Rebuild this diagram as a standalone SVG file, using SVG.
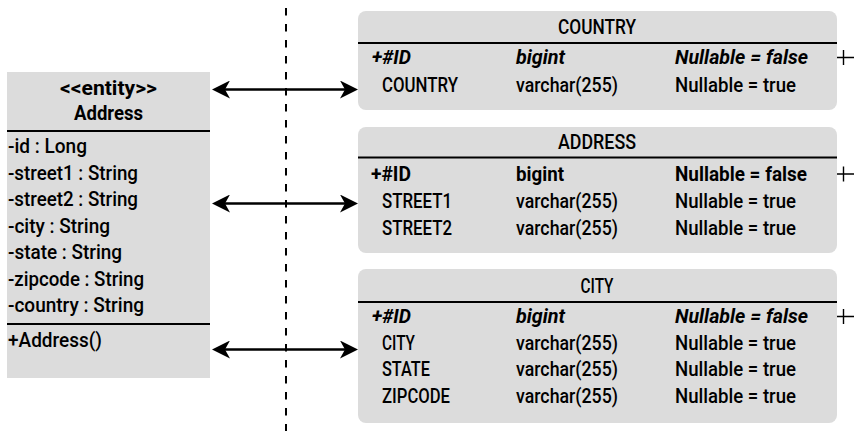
<svg xmlns="http://www.w3.org/2000/svg" width="854" height="431" viewBox="0 0 854 431">
  <defs>
    <style>
      .box { fill: #dcdcdc; }
      .rule { stroke: #000; stroke-width: 2; }
      .t { font-family: Roboto, "Liberation Sans", sans-serif; font-size: 20px; font-weight: 500; fill: #000; }
      .b { font-weight: 700; }
      .i { font-style: italic; }
      .mid { text-anchor: middle; }
      .link { stroke: #000; stroke-width: 2.5; fill: none; }
      .stub { stroke: #000; stroke-width: 1.4; fill: none; }
      .sep { stroke: #000; stroke-width: 2; stroke-dasharray: 7.5 8.5; }
    </style>
    <marker id="head" viewBox="0 0 18 18" refX="15" refY="9" markerWidth="18" markerHeight="18" markerUnits="userSpaceOnUse" orient="auto-start-reverse">
      <path d="M0,0 L18,9 L0,18 L5,9 Z" fill="#000"/>
    </marker>
  </defs>

  <!-- dashed boundary between object and relational sides -->
  <line class="sep" x1="286" y1="8" x2="286" y2="431"/>

  <!-- UML class -->
  <g id="entity-address">
    <rect class="box" x="7" y="72" width="203" height="306"/>
    <line class="rule" x1="7" y1="131" x2="210" y2="131"/>
    <line class="rule" x1="7" y1="324" x2="210" y2="324"/>
    <text class="t b mid" x="108.5" y="95" textLength="97" lengthAdjust="spacingAndGlyphs">&lt;&lt;entity&gt;&gt;</text>
    <text class="t b mid" x="108.5" y="120" textLength="69" lengthAdjust="spacingAndGlyphs">Address</text>
    <text class="t" x="8" y="153" textLength="79" lengthAdjust="spacingAndGlyphs">-id : Long</text>
    <text class="t" x="8" y="180" textLength="130" lengthAdjust="spacingAndGlyphs">-street1 : String</text>
    <text class="t" x="8" y="206" textLength="130" lengthAdjust="spacingAndGlyphs">-street2 : String</text>
    <text class="t" x="8" y="232.5" textLength="102" lengthAdjust="spacingAndGlyphs">-city : String</text>
    <text class="t" x="8" y="259" textLength="114" lengthAdjust="spacingAndGlyphs">-state : String</text>
    <text class="t" x="8" y="285.5" textLength="136" lengthAdjust="spacingAndGlyphs">-zipcode : String</text>
    <text class="t" x="8" y="312" textLength="136" lengthAdjust="spacingAndGlyphs">-country : String</text>
    <text class="t" x="8" y="347" textLength="94" lengthAdjust="spacingAndGlyphs">+Address()</text>
  </g>

  <!-- COUNTRY table -->
  <g id="table-country">
    <rect class="box" x="358" y="11" width="479" height="99" rx="8"/>
    <line class="rule" x1="358" y1="43" x2="837" y2="43"/>
    <text class="t mid" x="597" y="34" textLength="78" lengthAdjust="spacingAndGlyphs">COUNTRY</text>
    <text class="t b i" x="372" y="64" textLength="39" lengthAdjust="spacingAndGlyphs">+#ID</text>
    <text class="t b i" x="516" y="64" textLength="49" lengthAdjust="spacingAndGlyphs">bigint</text>
    <text class="t b i" x="675" y="64" textLength="133" lengthAdjust="spacingAndGlyphs">Nullable = false</text>
    <text class="t" x="382" y="91.5" textLength="76" lengthAdjust="spacingAndGlyphs">COUNTRY</text>
    <text class="t" x="516" y="91.5" textLength="102" lengthAdjust="spacingAndGlyphs">varchar(255)</text>
    <text class="t" x="675" y="91.5" textLength="121" lengthAdjust="spacingAndGlyphs">Nullable = true</text>
    <path class="stub" d="M837,57.5 H854 M843.5,50 V65"/>
  </g>

  <!-- ADDRESS table -->
  <g id="table-address">
    <rect class="box" x="358" y="127" width="479" height="126" rx="8"/>
    <line class="rule" x1="358" y1="157.5" x2="837" y2="157.5"/>
    <text class="t mid" x="597" y="149" textLength="78" lengthAdjust="spacingAndGlyphs">ADDRESS</text>
    <text class="t b" x="371" y="180.5" textLength="40" lengthAdjust="spacingAndGlyphs">+#ID</text>
    <text class="t b" x="516" y="180.5" textLength="48" lengthAdjust="spacingAndGlyphs">bigint</text>
    <text class="t b" x="675" y="180.5" textLength="132" lengthAdjust="spacingAndGlyphs">Nullable = false</text>
    <text class="t" x="382" y="208" textLength="70" lengthAdjust="spacingAndGlyphs">STREET1</text>
    <text class="t" x="516" y="208" textLength="102" lengthAdjust="spacingAndGlyphs">varchar(255)</text>
    <text class="t" x="675" y="208" textLength="121" lengthAdjust="spacingAndGlyphs">Nullable = true</text>
    <text class="t" x="382" y="235" textLength="70" lengthAdjust="spacingAndGlyphs">STREET2</text>
    <text class="t" x="516" y="235" textLength="102" lengthAdjust="spacingAndGlyphs">varchar(255)</text>
    <text class="t" x="675" y="235" textLength="121" lengthAdjust="spacingAndGlyphs">Nullable = true</text>
    <path class="stub" d="M837,174 H854 M843.5,166.5 V181.5"/>
  </g>

  <!-- CITY table -->
  <g id="table-city">
    <rect class="box" x="358" y="269" width="479" height="154" rx="8"/>
    <line class="rule" x1="358" y1="302" x2="837" y2="302"/>
    <text class="t mid" x="597" y="293" textLength="33" lengthAdjust="spacingAndGlyphs">CITY</text>
    <text class="t b i" x="372" y="322.5" textLength="39" lengthAdjust="spacingAndGlyphs">+#ID</text>
    <text class="t b i" x="516" y="322.5" textLength="49" lengthAdjust="spacingAndGlyphs">bigint</text>
    <text class="t b i" x="675" y="322.5" textLength="133" lengthAdjust="spacingAndGlyphs">Nullable = false</text>
    <text class="t" x="382" y="349.5" textLength="33" lengthAdjust="spacingAndGlyphs">CITY</text>
    <text class="t" x="516" y="349.5" textLength="102" lengthAdjust="spacingAndGlyphs">varchar(255)</text>
    <text class="t" x="675" y="349.5" textLength="121" lengthAdjust="spacingAndGlyphs">Nullable = true</text>
    <text class="t" x="382" y="376" textLength="48" lengthAdjust="spacingAndGlyphs">STATE</text>
    <text class="t" x="516" y="376" textLength="102" lengthAdjust="spacingAndGlyphs">varchar(255)</text>
    <text class="t" x="675" y="376" textLength="121" lengthAdjust="spacingAndGlyphs">Nullable = true</text>
    <text class="t" x="382" y="402.5" textLength="68" lengthAdjust="spacingAndGlyphs">ZIPCODE</text>
    <text class="t" x="516" y="402.5" textLength="102" lengthAdjust="spacingAndGlyphs">varchar(255)</text>
    <text class="t" x="675" y="402.5" textLength="121" lengthAdjust="spacingAndGlyphs">Nullable = true</text>
    <path class="stub" d="M837,316.5 H854 M843.5,309 V324"/>
  </g>

  <!-- mappings between class and tables -->
  <g id="connectors">
    <line class="link" x1="215" y1="89.5" x2="355" y2="89.5" marker-start="url(#head)" marker-end="url(#head)"/>
    <line class="link" x1="215" y1="203.5" x2="355" y2="203.5" marker-start="url(#head)" marker-end="url(#head)"/>
    <line class="link" x1="215" y1="349.5" x2="355" y2="349.5" marker-start="url(#head)" marker-end="url(#head)"/>
  </g>
</svg>
